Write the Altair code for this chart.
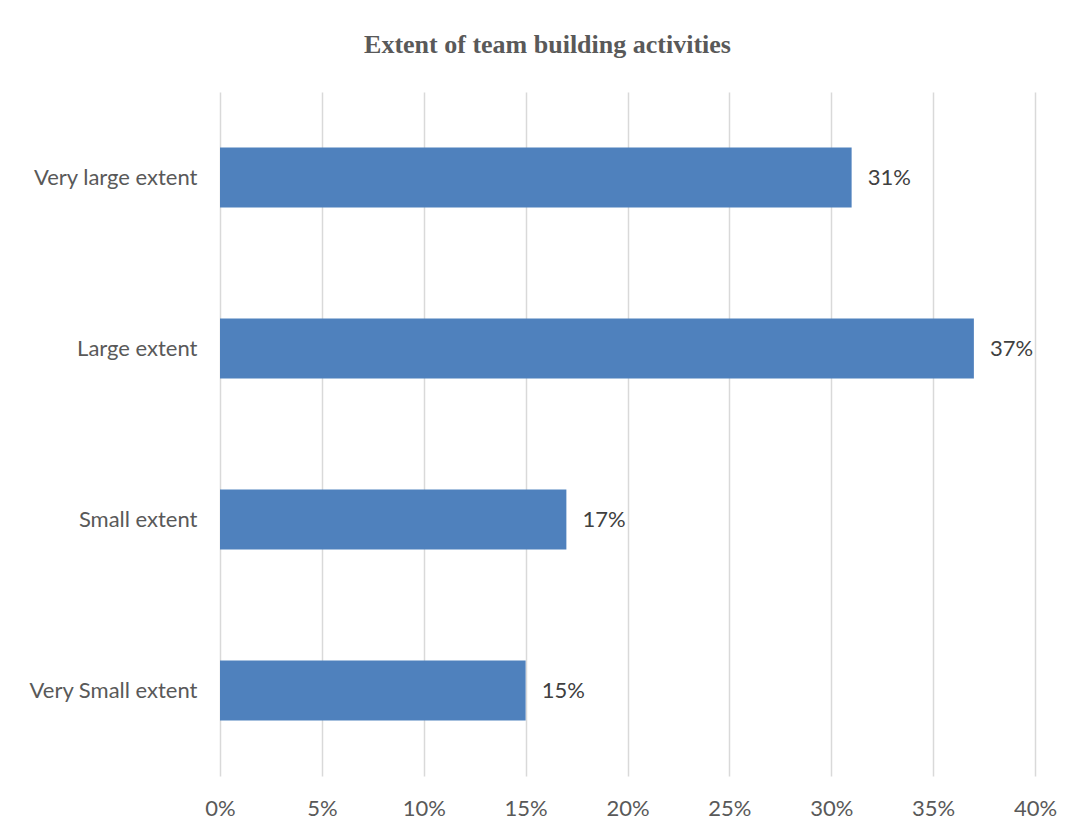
import altair as alt
import pandas as pd

categories = ["Very large extent", "Large extent", "Small extent", "Very Small extent"]
values = [0.31, 0.37, 0.17, 0.15]
labels = ["31%", "37%", "17%", "15%"]

df = pd.DataFrame({"category": categories, "value": values, "label": labels})

FONT = "Lato"
GRAY = "#595959"

y_enc = alt.Y(
    "category:N",
    sort=categories,
    title=None,
    scale=alt.Scale(paddingInner=0.649, paddingOuter=0.3245),
    axis=alt.Axis(
        ticks=False, domain=False, labelFontSize=22, labelFont=FONT,
        labelColor=GRAY, labelPadding=23, labelLimit=300,
    ),
)
x_enc = alt.X(
    "value:Q",
    title=None,
    scale=alt.Scale(domain=[0, 0.4], nice=False),
    axis=alt.Axis(
        format=".0%", values=[0, 0.05, 0.1, 0.15, 0.2, 0.25, 0.3, 0.35, 0.4],
        ticks=False, domain=False, grid=True, gridColor="#d9d9d9", gridWidth=1.5,
        labelFontSize=22, labelFont=FONT, labelColor=GRAY, labelPadding=22,
        labelFlush=False,
    ),
)

bars = alt.Chart(df).mark_bar(color="#4F81BD").encode(x=x_enc, y=y_enc)
text = alt.Chart(df).mark_text(
    align="left", baseline="middle", dx=16, fontSize=22, font=FONT, color="#404040"
).encode(x="value:Q", y=alt.Y("category:N", sort=categories), text="label:N")

chart = (bars + text).properties(
    width=815,
    height=684,
    autosize=alt.AutoSizeParams(type="none"),
    padding={"left": 220, "top": 92, "right": 42, "bottom": 58},
    title=alt.TitleParams(
        "Extent of team building activities",
        font="Liberation Serif", fontSize=26, fontWeight="bold", color=GRAY,
        anchor="middle", dx=-80, offset=34,
    ),
).configure_view(stroke=None)

chart.save("out.html", embed_options={"renderer": "svg", "actions": False})
